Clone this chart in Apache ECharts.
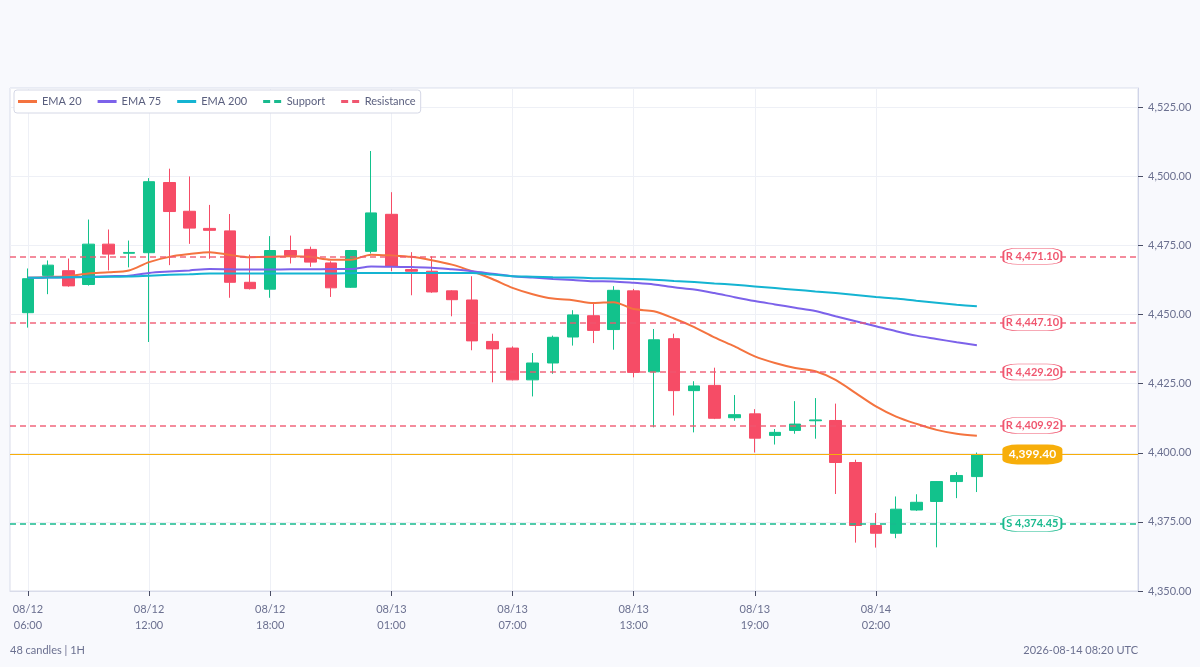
<!DOCTYPE html>
<html>
<head>
<meta charset="utf-8">
<script src="https://cdn.jsdelivr.net/npm/echarts@6/dist/echarts.min.js"></script>
<style>
html,body{margin:0;padding:0;background:#f8f9fd;}
#chart{width:1200px;height:667px;}
</style>
</head>
<body>
<div id="chart"></div>
<script>
// ---- Data ----
const tickIndex = [0, 6, 12, 18, 24, 30, 36, 42];
const tickLabels = ['08/12\n06:00', '08/12\n12:00', '08/12\n18:00', '08/13\n01:00',
                    '08/13\n07:00', '08/13\n13:00', '08/13\n19:00', '08/14\n02:00'];

const openV = [4450.7,4464.2,4465.9,4460.9,4475.5,4472.2,4472.4,4497.8,4487.4,4481.2,
               4480.3,4461.7,4459.2,4473.2,4473.6,4468.7,4459.9,4472.9,4486.3,4466.3,
               4465.7,4458.6,4455.3,4440.3,4437.9,4426.4,4432.5,4441.9,4449.6,4444.6,
               4458.6,4429.3,4441.3,4422.5,4424.4,4412.7,4414.1,4406.3,4408.1,4411.6,
               4411.7,4396.5,4373.7,4370.9,4379.3,4382.4,4389.6,4391.4];
const closeV = [4463.0,4467.9,4460.4,4475.5,4471.9,4472.5,4498.1,4487.3,4481.3,4480.5,
                4461.7,4459.4,4473.2,4471.4,4469.0,4459.7,4473.2,4486.8,4467.5,4465.7,
                4458.2,4455.4,4440.5,4437.6,4426.4,4432.5,4441.8,4449.9,4444.3,4458.8,
                4429.1,4440.9,4422.5,4424.2,4412.5,4413.8,4405.3,4407.4,4410.4,4411.9,
                4396.5,4373.7,4370.9,4379.6,4382.1,4389.6,4391.8,4399.4];
const lowV = [4445.3,4457.4,4460.1,4460.5,4466.0,4467.1,4440.1,4467.9,4475.6,4470.2,
              4456.1,4459.1,4456.1,4468.5,4467.3,4456.4,4459.7,4472.1,4465.7,4457.0,
              4457.9,4449.4,4437.1,4425.5,4426.2,4420.4,4428.6,4438.8,4439.7,4437.3,
              4427.3,4409.2,4413.5,4407.4,4412.2,4411.6,4400.1,4403.0,4406.9,4405.1,
              4385.1,4367.5,4365.7,4369.1,4379.0,4365.8,4383.6,4385.8];
const highV = [4466.7,4469.6,4470.3,4484.4,4480.8,4476.8,4499.4,4502.8,4500.0,4489.7,
               4486.4,4471.7,4478.4,4478.6,4474.6,4469.3,4473.4,4509.2,4494.3,4472.6,
               4471.1,4458.8,4463.9,4443.1,4438.5,4436.1,4442.4,4451.6,4454.0,4460.3,
               4459.3,4444.8,4443.1,4425.9,4430.8,4420.9,4415.8,4408.6,4418.7,4419.8,
               4417.8,4397.5,4378.2,4384.2,4385.0,4389.8,4393.0,4400.1];

const ema20 = [4463.3,4463.6,4463.9,4464.9,4465.3,4466.0,4469.0,4470.9,4471.9,4472.6,
               4471.6,4470.8,4470.9,4471.1,4470.9,4469.9,4469.9,4471.7,4471.4,4470.9,
               4469.7,4468.1,4465.7,4462.9,4459.7,4457.4,4455.8,4455.2,4454.2,4454.5,
               4452.0,4451.2,4448.6,4445.5,4441.8,4438.5,4434.9,4432.5,4430.7,4429.5,
               4426.4,4421.6,4416.8,4413.1,4410.5,4408.3,4406.9,4406.2];
const ema75 = [4463.3,4463.4,4463.5,4463.7,4463.9,4464.1,4465.1,4465.6,4466.0,4466.5,
               4466.4,4466.3,4466.3,4466.4,4466.4,4466.5,4466.5,4467.4,4467.3,4467.2,
               4467.0,4466.4,4465.7,4464.8,4463.9,4463.4,4462.9,4462.5,4462.1,4462.0,
               4461.5,4460.9,4459.9,4459.1,4457.8,4456.3,4454.9,4453.7,4452.5,4451.3,
               4449.4,4447.6,4445.8,4444.0,4442.4,4441.2,4440.0,4438.9];
const ema200 = [4463.3,4463.4,4463.5,4463.6,4463.7,4463.8,4464.1,4464.4,4464.6,4464.9,
                4464.9,4464.9,4464.9,4464.9,4464.9,4464.9,4465.0,4465.1,4465.1,4465.1,
                4465.1,4465.1,4465.1,4464.5,4463.9,4463.7,4463.5,4463.4,4463.2,4463.1,
                4462.9,4462.6,4462.2,4461.8,4461.3,4460.8,4460.2,4459.6,4459.0,4458.4,
                4457.8,4457.1,4456.4,4455.8,4455.0,4454.3,4453.6,4453.0];

const resistanceLevels = [4471.10, 4447.10, 4429.20, 4409.92];
const supportLevels = [4374.45];
const lastPrice = 4399.40;

const footerLeft = '48 candles | 1H';
const footerRight = '2026-08-14 08:20 UTC';

// ---- Chart ----
const FONT = 'Lato';
const UP = '#12c28c', DOWN = '#f64c66';
const RES = '#f0566f', SUP = '#19ba8e', LAST = '#f7ae0a';
const C20 = '#f4733f', C75 = '#7c62ea', C200 = '#14b4d2';
const LABEL_X = 49.75;
const SOLID_ICON = 'path://M0,0h19v3h-19z';
const DASH_ICON = 'path://M0,0h7v3h-7z M11,0h7v3h-7z';

const fmt = v => v.toLocaleString('en-US', {minimumFractionDigits: 2, maximumFractionDigits: 2});
const candles = openV.map((o, i) => [i, o, closeV[i], lowV[i], highV[i]]);
const pts = arr => arr.map((v, i) => [i, v]);

const chart = echarts.init(document.getElementById('chart'));
const option = {
  backgroundColor: '#f8f9fd',
  animation: false,
  textStyle: {fontFamily: FONT},
  grid: {left: 10, right: 62, top: 88, bottom: 76, show: true,
         backgroundColor: '#ffffff', borderColor: '#d9dcea', borderWidth: 1},
  legend: {
    left: 14, top: 90,
    data: [
      {name: 'EMA 20', icon: SOLID_ICON},
      {name: 'EMA 75', icon: SOLID_ICON},
      {name: 'EMA 200', icon: SOLID_ICON},
      {name: 'Support', icon: DASH_ICON},
      {name: 'Resistance', icon: DASH_ICON}
    ],
    backgroundColor: '#ffffff', borderColor: '#d5d8e6', borderWidth: 1, borderRadius: 3,
    padding: [6, 5, 6, 4], itemWidth: 19, itemHeight: 3, itemGap: 16,
    textStyle: {color: '#5a5f7e', fontSize: 11, fontFamily: FONT}
  },
  xAxis: {
    type: 'value', min: -0.89, max: 54.98,
    axisLine: {show: true, onZero: false, lineStyle: {color: '#d9dcea'}},
    axisTick: {show: true, customValues: tickIndex, length: 5, lineStyle: {color: '#4a4e66'}},
    axisLabel: {customValues: tickIndex, color: '#6b7090', fontSize: 11, lineHeight: 16, margin: 10,
                formatter: v => { const k = tickIndex.indexOf(Math.round(v)); return k >= 0 ? tickLabels[k] : ''; }},
    splitLine: {show: true, lineStyle: {color: '#eef0f6'}}
  },
  yAxis: {
    type: 'value', position: 'right', min: 4350, max: 4532, interval: 25,
    axisLine: {show: true, onZero: false, lineStyle: {color: '#d0d4e8'}},
    axisTick: {show: true, length: 5, lineStyle: {color: '#4a4e66'}},
    axisLabel: {showMaxLabel: false, color: '#6b7090', fontSize: 11, margin: 10, formatter: v => fmt(v)},
    splitLine: {show: true, lineStyle: {color: '#eef0f6'}}
  },
  series: [
    {
      name: 'Price', type: 'candlestick', data: candles, barWidth: 12, z: 3,
      itemStyle: {color: UP, color0: DOWN, borderColor: UP, borderColor0: DOWN, borderWidth: 1},
      markLine: {
        silent: true, symbol: ['none', 'none'], label: {show: false},
        lineStyle: {color: LAST, width: 1, type: 'solid'},
        data: [{yAxis: lastPrice}]
      },
      markPoint: {
        silent: true, z: 8, symbol: 'roundRect', symbolSize: [60, 20],
        itemStyle: {color: LAST},
        label: {show: true, position: 'inside', color: '#ffffff', fontWeight: 'bold', fontSize: 12,
                fontFamily: FONT, formatter: p => fmt(p.value)},
        data: [{coord: [LABEL_X, lastPrice], value: lastPrice}]
      }
    },
    {name: 'EMA 20', type: 'line', data: pts(ema20), symbol: 'none', smooth: 0.3, z: 4,
     itemStyle: {color: C20}, lineStyle: {color: C20, width: 2}},
    {name: 'EMA 75', type: 'line', data: pts(ema75), symbol: 'none', smooth: 0.3, z: 4,
     itemStyle: {color: C75}, lineStyle: {color: C75, width: 2}},
    {name: 'EMA 200', type: 'line', data: pts(ema200), symbol: 'none', smooth: 0.3, z: 4,
     itemStyle: {color: C200}, lineStyle: {color: C200, width: 2}},
    {
      name: 'Support', type: 'line', data: [], symbol: 'none',
      itemStyle: {color: SUP}, lineStyle: {color: SUP, width: 2, type: [6, 4]},
      markLine: {
        silent: true, symbol: ['none', 'none'], label: {show: false},
        lineStyle: {color: SUP, width: 1.5, type: [6, 4]},
        data: supportLevels.map(v => ({yAxis: v}))
      },
      markPoint: {
        silent: true, z: 8, symbol: 'roundRect', symbolSize: [58, 16],
        itemStyle: {color: '#ffffff', borderColor: SUP, borderWidth: 1},
        label: {show: true, position: 'inside', color: SUP, fontWeight: 'bold', fontSize: 11,
                fontFamily: FONT, formatter: p => 'S ' + fmt(p.value)},
        data: supportLevels.map(v => ({coord: [LABEL_X, v], value: v}))
      }
    },
    {
      name: 'Resistance', type: 'line', data: [], symbol: 'none',
      itemStyle: {color: RES}, lineStyle: {color: RES, width: 2, type: [6, 4]},
      markLine: {
        silent: true, symbol: ['none', 'none'], label: {show: false},
        lineStyle: {color: RES, width: 1.5, type: [6, 4], opacity: 0.9},
        data: resistanceLevels.map(v => ({yAxis: v}))
      },
      markPoint: {
        silent: true, z: 8, symbol: 'roundRect', symbolSize: [58, 16],
        itemStyle: {color: '#ffffff', borderColor: RES, borderWidth: 1},
        label: {show: true, position: 'inside', color: RES, fontWeight: 'bold', fontSize: 11,
                fontFamily: FONT, formatter: p => 'R ' + fmt(p.value)},
        data: resistanceLevels.map(v => ({coord: [LABEL_X, v], value: v}))
      }
    }
  ],
  graphic: [
    {type: 'text', left: 10, top: 645, style: {text: footerLeft, fill: '#6b7090', fontSize: 11, fontFamily: FONT}},
    {type: 'text', right: 62, top: 645, style: {text: footerRight, fill: '#6b7090', fontSize: 11, fontFamily: FONT}}
  ]
};
chart.setOption(option);
</script>
</body>
</html>
